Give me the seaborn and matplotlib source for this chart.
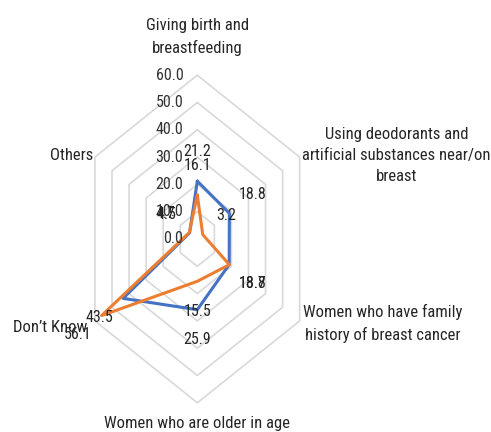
import numpy as np
import pandas as pd
import matplotlib
matplotlib.use("Agg")
import matplotlib.pyplot as plt
import seaborn as sns

# ---- data ----
categories = [
    "Giving birth and\nbreastfeeding",
    "Using deodorants and\nartificial substances near/on\nbreast",
    "Women who have family\nhistory of breast cancer",
    "Women who are older in age",
    "Don\u2019t Know",
    "Others",
]
series_blue = [21.2, 18.8, 18.7, 25.9, 43.5, 4.5]
series_orange = [16.1, 3.2, 18.8, 15.5, 56.1, 4.7]
tick_values = [0, 10, 20, 30, 40, 50, 60]
tick_labels = ["0.0", "10.0", "20.0", "30.0", "40.0", "50.0", "60.0"]

sns.set_style("white")
plt.rcParams["font.family"] = ["Roboto Condensed", "Roboto", "DejaVu Sans"]
plt.rcParams["font.stretch"] = "condensed"

W, H = 491, 432
fig = plt.figure(figsize=(W / 100, H / 100), dpi=100)
ax = fig.add_axes([0, 0, 1, 1])
ax.set_axis_off()

# squished radar geometry (pixels per unit)
sx, sy = 1.97, 2.73
cx, cy = 197.3, 432 - 239
ax.set_xlim(-cx / sx, (W - cx) / sx)
ax.set_ylim(-cy / sy, (H - cy) / sy)

n = len(categories)
theta = np.arange(n) * 2 * np.pi / n
st, ct = np.sin(theta), np.cos(theta)


def to_xy(vals):
    v = np.asarray(vals, dtype=float)
    x = np.append(v * st, v[0] * st[0])
    y = np.append(v * ct, v[0] * ct[0])
    return x, y

# grid hexagons
for tv in tick_values[1:]:
    gx, gy = to_xy([tv] * n)
    ax.plot(gx, gy, color="#d9d9d9", lw=1.2, zorder=1)

# tick labels
for tv, tl in zip(tick_values, tick_labels):
    ax.annotate(tl, (0, tv), xytext=(-14, 0), textcoords="offset pixels",
                ha="right", va="center", fontsize=11.5, color="#333333", zorder=5)

# series
for vals, col in [(series_blue, "#4472C4"), (series_orange, "#ED7D31")]:
    x, y = to_xy(vals)
    df = pd.DataFrame({"x": x, "y": y})
    sns.lineplot(data=df, x="x", y="y", sort=False, estimator=None,
                 color=col, lw=2.2, ax=ax, zorder=3)
    for k, v in enumerate(vals):
        dx, dy = st[k] * sx, ct[k] * sy
        nrm = np.hypot(dx, dy)
        off = 30
        ax.annotate(f"{v:.1f}", (v * st[k], v * ct[k]),
                    xytext=(off * dx / nrm, off * dy / nrm), textcoords="offset pixels",
                    ha="center", va="center", fontsize=11.5, color="#262626", zorder=6)

# category labels
cat_pos = [
    (74, "center", "center"),
    (61.5, "left", "center"),
    (62, "left", "center"),
    (67.4, "center", "center"),
    (64.5, "right", "center"),
    (61, "right", "center"),
]
for k, (lab, (r, ha, va)) in enumerate(zip(categories, cat_pos)):
    ax.text(r * st[k], r * ct[k], lab, ha=ha, va=va, multialignment="center",
            fontsize=12, color="#262626", linespacing=1.5, zorder=6)

fig.savefig("out.png", dpi=100)
